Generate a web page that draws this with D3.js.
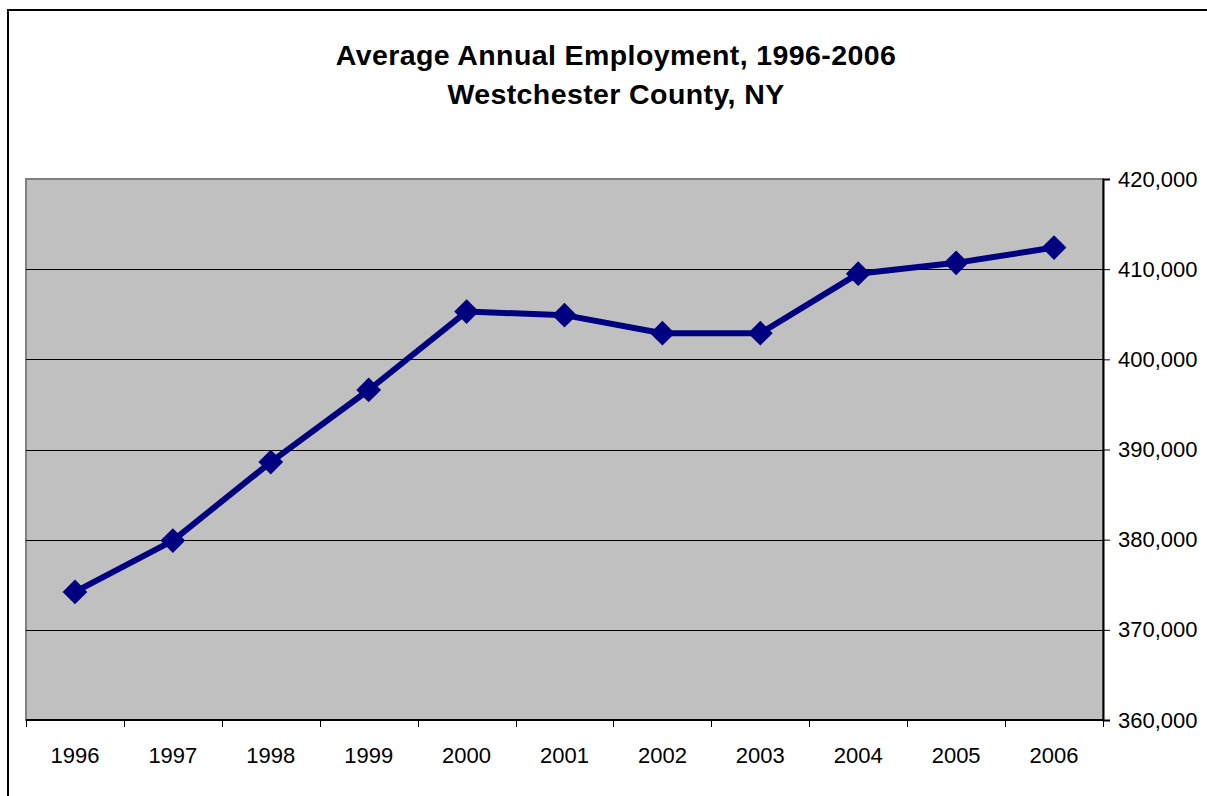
<!DOCTYPE html>
<html>
<head>
<meta charset="utf-8">
<script src="https://cdn.jsdelivr.net/npm/d3@7"></script>
<style>
  body { margin: 0; background: #fff; }
  svg { display: block; }
  text { font-family: "Liberation Sans", Arial, sans-serif; fill: #000; }
</style>
</head>
<body>
<div class="chart"></div>
<script>
var years = ["1996", "1997", "1998", "1999", "2000", "2001", "2002", "2003", "2004", "2005", "2006"];
var employment = [374200, 379900, 388600, 396600, 405300, 404900, 402900, 402900, 409500, 410700, 412400];
var yTicks = [360000, 370000, 380000, 390000, 400000, 410000, 420000];
var titleLines = ["Average Annual Employment, 1996-2006", "Westchester County, NY"];

var svgWidth = 1207;
var svgHeight = 796;

var margin = { top: 179, right: 104, bottom: 76, left: 26 };
var width = svgWidth - margin.left - margin.right;
var height = svgHeight - margin.top - margin.bottom;

var svg = d3.select(".chart")
  .append("svg")
  .attr("width", svgWidth)
  .attr("height", svgHeight);

// outer chart frame (runs off the page on right and bottom)
svg.append("rect")
  .attr("x", 8)
  .attr("y", 10)
  .attr("width", 1250)
  .attr("height", 850)
  .attr("fill", "#fff")
  .attr("stroke", "#000")
  .attr("stroke-width", 2);

// title
svg.append("g").selectAll("text")
  .data(titleLines)
  .enter()
  .append("text")
  .attr("x", 616)
  .attr("y", (d, i) => 65 + i * 39)
  .attr("text-anchor", "middle")
  .attr("font-size", 28.5)
  .attr("font-weight", "bold")
  .attr("letter-spacing", 0.4)
  .text(d => d);

var chartGroup = svg.append("g")
  .attr("transform", `translate(${margin.left}, ${margin.top})`);

var xScale = d3.scaleBand()
  .domain(years)
  .range([0, width]);

var yScale = d3.scaleLinear()
  .domain([360000, 420000])
  .range([height, 0]);

// plot area
chartGroup.append("rect")
  .attr("width", width)
  .attr("height", height)
  .attr("fill", "#c0c0c0")
  .attr("stroke", "#808080")
  .attr("stroke-width", 2);

// gridlines
chartGroup.append("g")
  .selectAll("line")
  .data(yTicks.slice(1, -1))
  .enter()
  .append("line")
  .attr("x1", 0)
  .attr("x2", width)
  .attr("y1", d => Math.round(yScale(d)) + 0.5)
  .attr("y2", d => Math.round(yScale(d)) + 0.5)
  .attr("stroke", "#000")
  .attr("stroke-width", 1);

// bottom axis: ticks at category boundaries
var bottomAxis = chartGroup.append("g")
  .attr("transform", `translate(0, ${height})`);

bottomAxis.append("line")
  .attr("x1", 0).attr("x2", width)
  .attr("stroke", "#000").attr("stroke-width", 2);

bottomAxis.selectAll(".tick")
  .data(d3.range(years.length + 1))
  .enter()
  .append("line")
  .attr("x1", i => Math.round(i * xScale.step()) + 0.5)
  .attr("x2", i => Math.round(i * xScale.step()) + 0.5)
  .attr("y1", 0)
  .attr("y2", 7)
  .attr("stroke", "#000");

bottomAxis.selectAll("text")
  .data(years)
  .enter()
  .append("text")
  .attr("x", d => xScale(d) + xScale.bandwidth() / 2)
  .attr("y", 43)
  .attr("text-anchor", "middle")
  .attr("font-size", 22)
  .text(d => d);

// right axis
var rightAxis = d3.axisRight(yScale)
  .tickValues(yTicks)
  .tickSize(7)
  .tickPadding(8)
  .tickFormat(d3.format(","));

var rAxis = chartGroup.append("g")
  .attr("transform", `translate(${width}, 0)`)
  .call(rightAxis);

rAxis.select(".domain").attr("stroke", "#000").attr("stroke-width", 2);
rAxis.selectAll("line").attr("stroke", "#000");
rAxis.selectAll("text")
  .attr("font-size", 22)
  .attr("font-family", "Liberation Sans, Arial, sans-serif")
  .attr("fill", "#000");

// line
var line = d3.line()
  .x((d, i) => xScale(years[i]) + xScale.bandwidth() / 2)
  .y(d => yScale(d));

chartGroup.append("path")
  .datum(employment)
  .attr("d", line)
  .attr("fill", "none")
  .attr("stroke", "#000080")
  .attr("stroke-width", 6)
  .attr("stroke-linejoin", "round");

// diamond markers
chartGroup.append("g")
  .selectAll("path")
  .data(employment)
  .enter()
  .append("path")
  .attr("transform", (d, i) => `translate(${xScale(years[i]) + xScale.bandwidth() / 2}, ${yScale(d)})`)
  .attr("d", d3.symbol().type(d3.symbolDiamond2).size(390))
  .attr("fill", "#000080");
</script>
</body>
</html>
